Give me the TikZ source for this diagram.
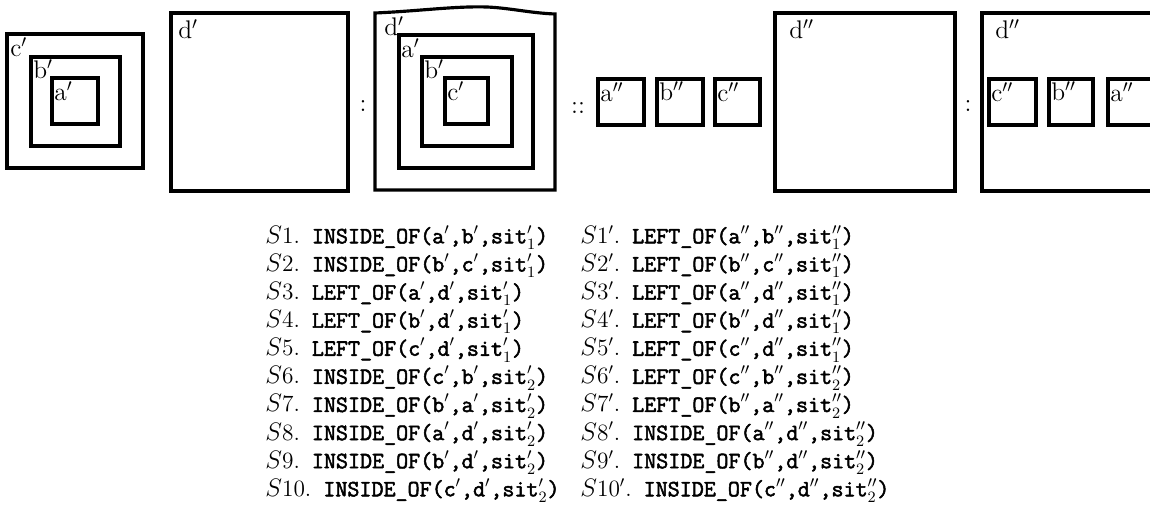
\documentclass[tikz,border=0pt]{standalone}
\usepackage{tikz}
\usepackage{amsmath}
\usepackage{fontspec}
\newfontfamily\stmtfont{Latin Modern Mono}[FakeBold=2.2]
\usetikzlibrary{positioning}

\newcommand{\stno}[1]{{\rmfamily\mdseries$S$#1.}\ }

\begin{document}
\begin{tikzpicture}[x=0.02cm, y=-0.02cm,
    box/.style={line width=1.8pt},
    lbl/.style={anchor=north west, inner sep=0pt, font=\fontsize{14.5}{16}\selectfont},
    stmt/.style={anchor=north west, align=left, inner sep=0pt, font=\fontsize{13.3}{16}\selectfont\stmtfont}
]
    \useasboundingbox (0,0) rectangle (1150,507);

    % boxes: corners, label inset, label, name
    \foreach \x/\y/\X/\Y/\dx/\dy/\t/\n in {
        7/34/143/168/3/3/{c$'$}/c1, 31/57/120/146/2/2/{b$'$}/b1, 52/78/98/124/2/3/{a$'$}/a1,
        171/13/348/191/7/6/{d$'$}/d1,
        399/35/533/168/2/3/{a$'$}/a2, 422/57/512/146/2/2/{b$'$}/b2, 445/78/488/124/2/3/{c$'$}/c2,
        598/79/644/125/2/3/{a$''$}/a3, 657/79/703/125/2/2/{b$''$}/b3, 715/79/760/125/2/3/{c$''$}/c3,
        775/13/955/191/14/6/{d$''$}/d3,
        982/13/1162/191/13/6/{d$''$}/d4,
        989/79/1036/125/2/3/{c$''$}/c4, 1049/79/1093/125/2/2/{b$''$}/b4, 1108/79/1154/125/2/3/{a$''$}/a4
    } {
        \draw[box] (\x,\y) rectangle (\X,\Y);
        \node[lbl] (\n) at (\x+\dx,\y+\dy) {\t};
    }

    % hand drawn outer box of the second situation
    \draw[box] (375,190) -- (375,13) .. controls (420,11) and (455,6) .. (487,7)
        .. controls (510,8) and (530,13) .. (555,14) -- (555,190) -- cycle;
    \node[lbl] (d2) at (384,16) {d$'$};

    % analogy signs
    \node[lbl, anchor=center] (sep1) at (363,106) {:};
    \node[lbl, anchor=center] (sep2) at (578,108) {::};
    \node[lbl, anchor=center] (sep3) at (968,106) {:};

    % statements
    \node[stmt] (sleft) at (265,225) {%
        \stno{1}INSIDE\_OF(a$'$,b$'$,sit$'_1$)\\
        \stno{2}INSIDE\_OF(b$'$,c$'$,sit$'_1$)\\
        \stno{3}LEFT\_OF(a$'$,d$'$,sit$'_1$)\\
        \stno{4}LEFT\_OF(b$'$,d$'$,sit$'_1$)\\
        \stno{5}LEFT\_OF(c$'$,d$'$,sit$'_1$)\\
        \stno{6}INSIDE\_OF(c$'$,b$'$,sit$'_2$)\\
        \stno{7}INSIDE\_OF(b$'$,a$'$,sit$'_2$)\\
        \stno{8}INSIDE\_OF(a$'$,d$'$,sit$'_2$)\\
        \stno{9}INSIDE\_OF(b$'$,d$'$,sit$'_2$)\\
        \stno{10}INSIDE\_OF(c$'$,d$'$,sit$'_2$)};
    \node[stmt] (sright) at (580,225) {%
        \stno{1$'$}LEFT\_OF(a$''$,b$''$,sit$''_1$)\\
        \stno{2$'$}LEFT\_OF(b$''$,c$''$,sit$''_1$)\\
        \stno{3$'$}LEFT\_OF(a$''$,d$''$,sit$''_1$)\\
        \stno{4$'$}LEFT\_OF(b$''$,d$''$,sit$''_1$)\\
        \stno{5$'$}LEFT\_OF(c$''$,d$''$,sit$''_1$)\\
        \stno{6$'$}LEFT\_OF(c$''$,b$''$,sit$''_2$)\\
        \stno{7$'$}LEFT\_OF(b$''$,a$''$,sit$''_2$)\\
        \stno{8$'$}INSIDE\_OF(a$''$,d$''$,sit$''_2$)\\
        \stno{9$'$}INSIDE\_OF(b$''$,d$''$,sit$''_2$)\\
        \stno{10$'$}INSIDE\_OF(c$''$,d$''$,sit$''_2$)};
\end{tikzpicture}
\end{document}
